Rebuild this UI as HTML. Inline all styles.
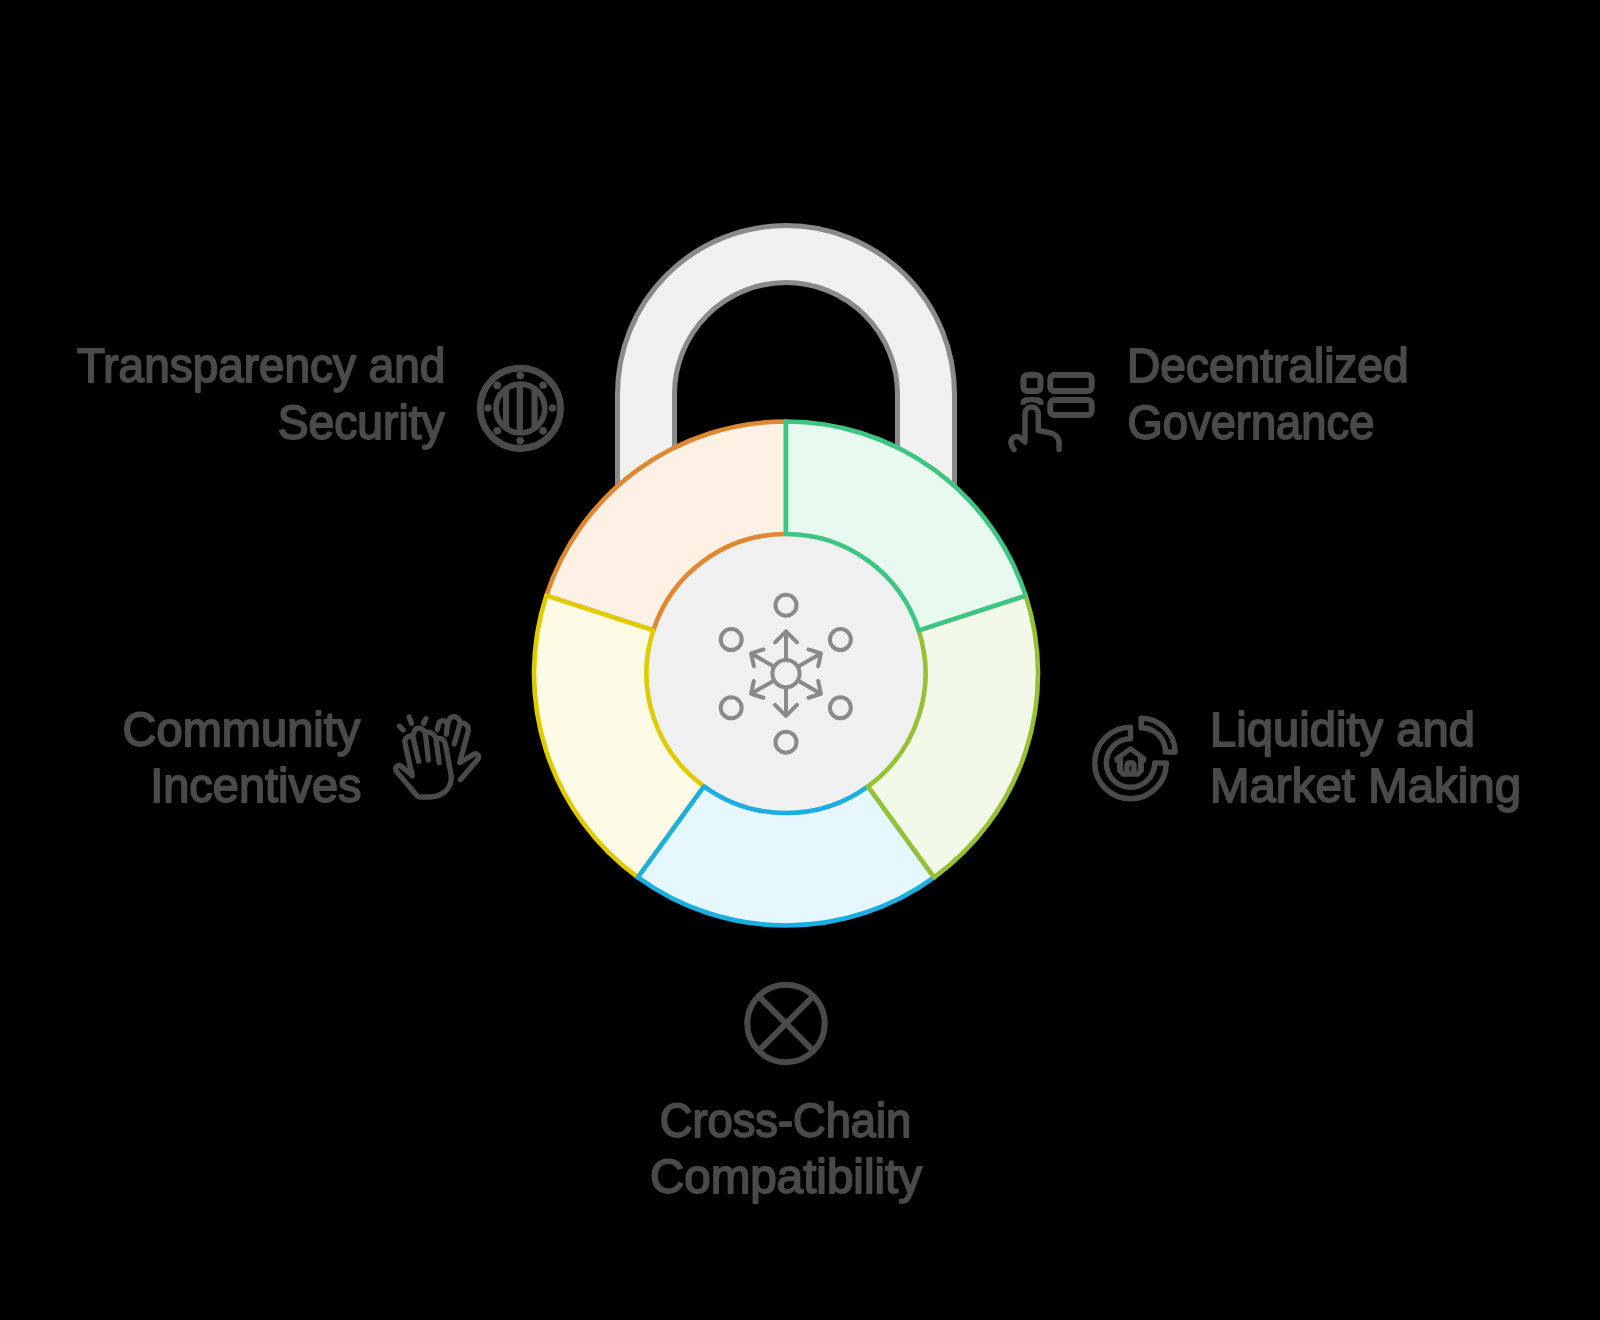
<!DOCTYPE html>
<html><head><meta charset="utf-8"><style>
html,body{margin:0;padding:0;background:#000;width:1600px;height:1320px;overflow:hidden}
svg{display:block}
text{font-family:"Liberation Sans",sans-serif;font-size:48px;fill:#4a4a4a;stroke:#4a4a4a;stroke-width:1.8px;stroke-linejoin:round}
</style></head><body>
<svg width="1600" height="1320" viewBox="0 0 1600 1320">
<rect width="1600" height="1320" fill="#000"/>
<!-- shackle -->
<path d="M617.5 640V394A168.5 168.5 0 0 1 954.5 394V640H897.5V394A111.5 111.5 0 0 0 674.5 394V640Z" fill="#f0f0f0" stroke="#8a8a8a" stroke-width="5"/>
<!-- center gray -->
<circle cx="786" cy="673.5" r="140" fill="#f0f0f0"/>
<!-- segments -->
<g stroke-width="4.6" stroke-linejoin="round">
<path d="M546.33 595.63A252 252 0 0 1 786.00 421.50L786.00 534.00A139.5 139.5 0 0 0 653.33 630.39Z" fill="#fdf1e6" stroke="#e0882f"/>
<path d="M637.88 877.37A252 252 0 0 1 546.33 595.63L653.33 630.39A139.5 139.5 0 0 0 704.00 786.36Z" fill="#fdfbe6" stroke="#e0cb00"/>
<path d="M934.12 877.37A252 252 0 0 1 637.88 877.37L704.00 786.36A139.5 139.5 0 0 0 868.00 786.36Z" fill="#e6f7fd" stroke="#1aafe0"/>
<path d="M1025.67 595.63A252 252 0 0 1 934.12 877.37L868.00 786.36A139.5 139.5 0 0 0 918.67 630.39Z" fill="#f2f9e8" stroke="#97c134"/>
<path d="M786.00 421.50A252 252 0 0 1 1025.67 595.63L918.67 630.39A139.5 139.5 0 0 0 786.00 534.00Z" fill="#e8f9f0" stroke="#3cc583"/>
</g>
<!-- hub icon -->
<g fill="none" stroke="#8a8a8a" stroke-width="4" stroke-linecap="round" stroke-linejoin="round">
<circle cx="786" cy="673.6" r="13.6"/>
<circle cx="786" cy="605.2" r="10.5"/>
<circle cx="731.2" cy="639.6" r="10.5"/>
<circle cx="840.4" cy="639.6" r="10.5"/>
<circle cx="731.2" cy="707.8" r="10.5"/>
<circle cx="840.4" cy="707.8" r="10.5"/>
<circle cx="786" cy="742.2" r="10.5"/>
<path d="M786.00 658.00L786.00 631.40M775.04 642.36L786.00 631.40L796.96 642.36M799.51 665.80L820.90 653.45M808.54 649.43L820.90 653.45L818.20 666.17M799.51 681.40L820.90 693.75M818.20 681.03L820.90 693.75L808.54 697.77M786.00 689.20L786.00 715.80M796.96 704.84L786.00 715.80L775.04 704.84M772.49 681.40L751.10 693.75M763.46 697.77L751.10 693.75L753.80 681.03M772.49 665.80L751.10 653.45M753.80 666.17L751.10 653.45L763.46 649.43"/>
</g>
<!-- side icons -->
<g fill="none" stroke="#4a4a4a" stroke-width="6" stroke-linecap="round" stroke-linejoin="round">
<!-- transparency -->
<circle cx="520.4" cy="408.3" r="40.2" stroke-width="6.8"/>
<circle cx="520.4" cy="408.5" r="24.4" stroke-width="5.8"/>
<path d="M519.8 384.5V432.5M506 388V429M534.5 388V429" stroke-width="6.2" stroke-linecap="butt"/>
<!-- cross chain -->
<circle cx="786" cy="1023.5" r="38.7"/>
<path d="M758.6 996.1L813.4 1050.9M813.4 996.1L758.6 1050.9" stroke-linecap="butt"/>
<!-- governance -->
<rect x="1023.5" y="375" width="17" height="16" rx="4"/>
<rect x="1050.3" y="375" width="41.4" height="16" rx="4"/>
<rect x="1050.3" y="400" width="41.4" height="15" rx="4"/>
<path d="M1023.5 404.7V403.5Q1023.5 400 1027.5 400H1036.5Q1040.5 400 1040.5 403.5V404.7" stroke-linecap="butt"/>
<path d="M1014 449.5C1010 445 1010 440 1013.5 437.5C1016 435.5 1019 436.5 1021 438.5L1025 442V413.7A6.65 6.65 0 0 1 1038.3 413.7V430.5L1050 432.8C1055.5 434 1059.1 438 1059.1 443V449.4" stroke="#000" stroke-width="9.5"/>
<path d="M1014 449.5C1010 445 1010 440 1013.5 437.5C1016 435.5 1019 436.5 1021 438.5L1025 442V413.7A6.65 6.65 0 0 1 1038.3 413.7V430.5L1050 432.8C1055.5 434 1059.1 438 1059.1 443V449.4" stroke-width="5.5"/>
<!-- liquidity -->
<path d="M1130.5 727.2A35.8 35.8 0 1 0 1166.3 763L1154.7 763A24.2 24.2 0 1 1 1130.5 738.8Z" stroke-width="5.5"/>
<path d="M1141.2 718.2A33.8 33.8 0 0 1 1175 752L1165.5 752A24.3 24.3 0 0 0 1141.2 727.7Z" stroke-width="5.5"/>
<g stroke="none">
<path d="M1114.6 757.3L1129.4 746.6Q1130.6 745.8 1131.8 746.6L1146.3 757.3V761.6Q1146.3 762.4 1145.5 762.4H1143.9V771.5L1138.9 776.7H1122.1L1117 771.5V762.4H1115.4Q1114.6 762.4 1114.6 761.6Z" fill="#4a4a4a"/>
<path d="M1123 770.9V757.2L1130.5 751.8L1137.9 757.2V770.9Z" fill="#000"/>
<path d="M1124.2 771V766.2Q1124.2 760 1130.5 760Q1136.7 760 1136.7 766.2V771Z" fill="#4a4a4a"/>
<rect x="1129.7" y="765.8" width="1.6" height="5.2" fill="#000"/>
</g>
<!-- community -->
<g stroke-width="5.3">
<path d="M412.3 775.9L405.6 746C405.47 745.08 404.40 742.07 404.80 740.50C405.20 738.93 406.70 737.48 408.00 736.60C409.30 735.72 411.43 736.30 412.60 735.20C413.77 734.10 414.05 731.17 415.00 730.00C415.95 728.83 417.13 728.33 418.30 728.20C419.47 728.07 420.85 728.63 422.00 729.20C423.15 729.77 423.77 731.03 425.20 731.60C426.63 732.17 429.03 731.93 430.60 732.60C432.17 733.27 433.67 734.63 434.60 735.60C435.53 736.57 435.17 737.90 436.20 738.40C437.23 738.90 439.50 738.17 440.80 738.60C442.10 739.03 443.20 739.93 444.00 741.00C444.80 742.07 445.33 744.33 445.60 745.00L451.2 776Q452 786 444 792.5Q437 797 430.5 797H419.5Q418 797 417 795.8L396.6 771.6Q394.6 768.5 396.8 766.3Q398.8 764.6 401.2 766.2L411.9 775.1"/>
<path d="M412.6 735.6L418.6 761.4M425.2 731.8L428.4 760M436 738.3L439.1 762.7"/>
<path d="M399.4 726.2L403.2 730M409.2 717.1L411.5 723.2M425.9 718.6L423.6 723.2"/>
<path d="M437.3 729.4L438.6 724.2C438.83 723.77 439.23 722.20 440.00 721.60C440.77 721.00 442.13 720.53 443.20 720.60C444.27 720.67 445.67 721.53 446.40 722.00C447.13 722.47 447.00 724.03 447.60 723.40C448.20 722.77 449.00 719.33 450.00 718.20C451.00 717.07 452.33 716.67 453.60 716.60C454.87 716.53 456.53 716.97 457.60 717.80C458.67 718.63 459.43 720.73 460.00 721.60C460.57 722.47 460.23 722.67 461.00 723.00C461.77 723.33 463.50 723.03 464.60 723.60C465.70 724.17 466.97 725.30 467.60 726.40C468.23 727.50 468.27 729.57 468.40 730.20L459.7 762.7L473.2 754.4Q476.6 752.6 478.4 755.4Q479.4 757.6 477.6 759.6L460.3 779.7"/>
<path d="M447.6 723.3L446.4 734.2M460.3 722.7L454.2 743.9"/>
</g>
</g>
<g fill="#4a4a4a">
<circle cx="520.2" cy="375.5" r="3.8"/><circle cx="520.2" cy="440.8" r="3.8"/>
<circle cx="488" cy="408" r="3.8"/><circle cx="552.5" cy="408" r="3.8"/>
<circle cx="497.3" cy="385.4" r="3.8"/><circle cx="543.1" cy="385.2" r="3.8"/>
<circle cx="497.3" cy="430.8" r="3.8"/><circle cx="543.1" cy="430.8" r="3.8"/>
</g>
<!-- labels --><g style="will-change:transform">
<text transform="translate(445.41 382.4) scale(0.9569 1)" text-anchor="end">Transparency and</text>
<text transform="translate(444.74 438.6) scale(0.9642 1)" text-anchor="end">Security</text>
<text transform="translate(1127.12 382.4) scale(0.9594 1)" text-anchor="start">Decentralized</text>
<text transform="translate(1127.61 438.6) scale(0.9438 1)" text-anchor="start">Governance</text>
<text transform="translate(360.32 746.1) scale(0.9798 1)" text-anchor="end">Community</text>
<text transform="translate(361.58 802.2) scale(0.9782 1)" text-anchor="end">Incentives</text>
<text transform="translate(1209.95 746.1) scale(0.9833 1)" text-anchor="start">Liquidity and</text>
<text transform="translate(1209.93 802.2) scale(0.9890 1)" text-anchor="start">Market Making</text>
<text transform="translate(785.47 1137.2) scale(0.9430 1)" text-anchor="middle">Cross-Chain</text>
<text transform="translate(785.96 1193.1) scale(0.9901 1)" text-anchor="middle">Compatibility</text>
</g></svg>
</body></html>
